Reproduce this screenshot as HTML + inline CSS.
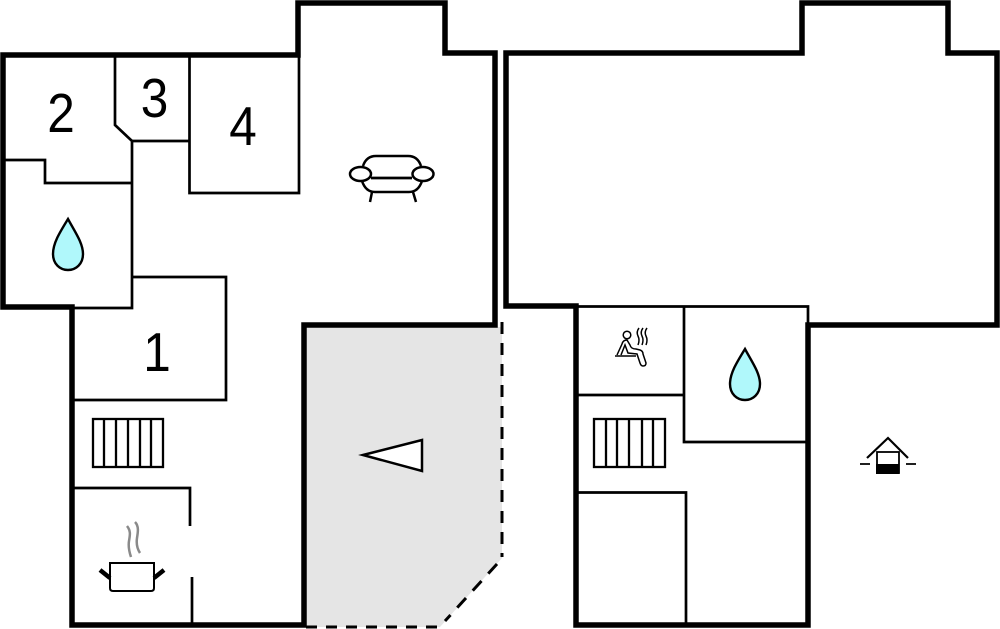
<!DOCTYPE html>
<html>
<head>
<meta charset="utf-8">
<style>
html,body{margin:0;padding:0;background:#fff}
svg{display:block}
text{font-family:"Liberation Sans",sans-serif;font-size:55px;fill:#000;text-anchor:middle}
</style>
</head>
<body>
<svg width="1000" height="629" viewBox="0 0 1000 629" xmlns="http://www.w3.org/2000/svg" fill="none" stroke="#000">
<rect width="1000" height="629" fill="#fff" stroke="none"/>

<!-- terrace -->
<polygon points="306,327 502,327 502,558 440,627 306,627" fill="#e5e5e5" stroke="none"/>
<path d="M502,322V557" stroke-width="3" stroke-dasharray="12,9"/>
<path d="M497,564L445,621" stroke-width="3" stroke-dasharray="13,10"/>
<path d="M306,627H440" stroke-width="3" stroke-dasharray="11,9"/>
<polygon points="363,455 422,440 422,471" fill="#fff" stroke-width="2.500"/>

<!-- left thin walls -->
<g stroke-width="2.700">
<path d="M115,57V125L132,141V308H74"/>
<path d="M132,141H189"/>
<path d="M189.500,57V193H299V57"/>
<path d="M4,160H45V183H132"/>
<path d="M132,277H226V400H72"/>
<path d="M73,488H190V526"/>
<path d="M192,577V624"/>
</g>

<!-- left thick walls -->
<path d="M298,55V3H445V53H495V325H304V625H72V307H3V55H298Z" stroke-width="5.500"/>

<!-- right thin walls -->
<g stroke-width="2.700">
<path d="M577,306.500H808V325"/>
<path d="M684,306V442H806"/>
<path d="M578,395H685"/>
<path d="M578,492.500H686V623"/>
</g>

<!-- right thick walls -->
<path d="M802,53V3H948V53H997V325H808V625H576V306H506V53H802Z" stroke-width="5.500"/>

<!-- numbers -->
<text transform="translate(61,132) scale(.9,1)" stroke="none">2</text>
<text transform="translate(154.500,117) scale(.9,1)" stroke="none">3</text>
<text transform="translate(243,145) scale(.9,1)" stroke="none">4</text>
<text transform="translate(157,371) scale(.9,1)" stroke="none">1</text>

<!-- drops -->
<path d="M68,219C60,232 53,243 53,254C53,264 60,270 68,270C76,270 83,264 83,254C83,243 75,232 68,219Z" fill="#b0f8fb" stroke-width="2.400"/>
<path d="M745,349C737,362 730,373 730,384C730,394 737,400 745,400C753,400 760,394 760,384C760,373 752,362 745,349Z" fill="#b0f8fb" stroke-width="2.400"/>

<!-- stairs -->
<g stroke-width="2.300">
<rect x="93" y="419" width="70" height="48"/>
<path d="M104,419V467M116,419V467M128,419V467M140,419V467M151,419V467"/>
<rect x="594" y="419" width="71" height="48"/>
<path d="M606,419V467M617,419V467M629,419V467M642,419V467M653,419V467"/>
</g>

<!-- pot -->
<path d="M110,563H154V588Q154,591 151,591H113Q110,591 110,588Z" stroke-width="2"/>
<path d="M100,570L110,578M164,570L154,578" stroke-width="4.500"/>
<path d="M127,526C131,531 130,535 129,541C128,547 130,554 131,557M135,522C139,526 138,532 137,538C136,545 138,550 140,553" stroke="#8a8a8a" stroke-width="2.500"/>

<!-- sofa -->
<g stroke-width="2.500">
<path d="M363,166C365,160 369,156 376,156H408C415,156 419,160 421,166"/>
<ellipse cx="360.500" cy="174" rx="10.500" ry="7"/>
<ellipse cx="423" cy="174" rx="10.500" ry="7"/>
<path d="M371,178H412" stroke-width="2.800"/>
<path d="M362,181C364,187 368,192 375,192H409C416,192 420,187 422,181"/>
<path d="M372,192L370,202M413,192L416,202"/>
</g>

<!-- sauna -->
<g stroke-width="1.500">
<circle cx="627" cy="335" r="3.800"/>
<path d="M615,356H636"/>
<path d="M617,355L622,344Q623,340 627,340L630,345Q631,349 636,349L640,350Q643,351 643,354L646,363Q646,366 643,366Q641,366 640,363L637,354L628,353L625,345L621,355"/>
<path d="M639,328Q636,332 638,336Q640,340 638,345M643,328Q640,332 642,336Q644,340 642,345M647,328Q644,332 646,336Q648,340 646,345"/>
</g>

<!-- well -->
<path d="M867,458L888,438L908,458" stroke-width="2.200"/>
<path d="M860,464H870M906,464H916" stroke-width="1.800"/>
<rect x="877" y="452" width="22" height="21" stroke-width="1.800"/>
<rect x="876" y="464" width="23" height="10" fill="#000" stroke="none"/>
</svg>
</body>
</html>
